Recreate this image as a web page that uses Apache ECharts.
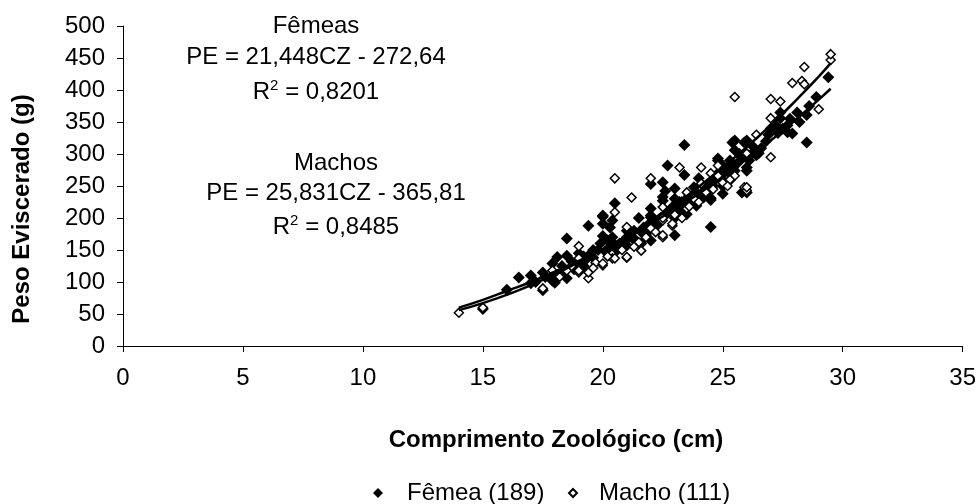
<!DOCTYPE html>
<html>
<head>
<meta charset="utf-8">
<script src="https://cdn.jsdelivr.net/npm/echarts@6/dist/echarts.min.js"></script>
<style>
html,body{margin:0;padding:0;background:#fff;}
#chart{width:979px;height:504px;}
</style>
</head>
<body>
<div id="chart"></div>
<script>
const xTicks = [0, 5, 10, 15, 20, 25, 30, 35];
const yTicks = [0, 50, 100, 150, 200, 250, 300, 350, 400, 450, 500];
const xTitle = 'Comprimento Zoológico (cm)';
const yTitle = 'Peso Eviscerado (g)';

const femea = [
  [15.0,58],[16.0,88],[16.5,107],[17.0,110],[17.5,87],[17.0,98],[17.5,115],[17.9,102],[17.9,129],[18.0,99],
  [18.1,139],[18.3,125],[18.5,106],[18.5,141],[18.5,168],[18.7,132],[19.0,128],[19.2,140],[19.4,188],[19.5,145],
  [19.6,150],[19.9,160],[20.0,191],[20.0,202],[20.0,204],[20.2,165],[20.4,170],[20.4,196],[20.5,223],[20.6,150],
  [20.7,160],[21.0,157],[21.0,170],[21.3,180],[21.4,162],[21.6,160],[21.8,175],[22.0,165],[22.0,185],[22.0,201],
  [22.0,204],[22.0,253],[22.3,190],[22.5,227],[22.5,233],[22.5,256],[22.7,208],[22.7,282],[22.9,217],[23.0,173],
  [23.0,200],[23.0,246],[23.1,217],[23.3,225],[23.4,207],[23.4,267],[23.4,314],[23.5,206],[23.6,235],[23.8,248],
  [23.9,219],[24.0,230],[24.1,238],[24.2,250],[24.5,186],[24.5,228],[24.5,231],[24.5,254],[24.7,260],[24.8,270],
  [24.8,290],[24.8,293],[25.0,238],[25.0,250],[25.2,275],[25.3,259],[25.3,270],[25.3,290],[25.4,318],[25.5,274],
  [25.5,306],[25.5,321],[25.8,240],[25.8,295],[25.9,318],[26.0,240],[26.0,274],[26.0,279],[26.0,321],[26.4,298],
  [26.5,301],[26.6,309],[27.0,340],[27.2,345],[27.4,356],[27.4,365],[27.7,334],[27.7,345],[27.9,332],[28.1,365],
  [28.5,318],[28.5,361],[28.9,389],[29.4,420],
  [18.8,120],[19.3,135],[19.8,150],[20.3,155],[21.2,170],[21.7,185],[22.2,195],[23.2,215],[23.7,225],[24.3,245],
  [24.9,262],[25.6,285],[26.2,300],[26.8,320],[27.5,340],
  [17.2,100],[17.6,108],[18.0,112],[18.4,118],[18.9,128],[19.2,125],[19.6,138],[20.1,148],[20.5,158],[20.9,163],
  [21.3,168],[21.6,178],[21.9,190],[22.4,200],[22.8,210],[23.2,225],[23.5,230],[23.9,240],[24.2,232],[24.6,250],
  [25.0,268],[25.4,280],[25.7,300],[26.1,290],[26.3,310],[26.9,330],[27.3,333],[27.8,355],[28.2,350],[28.6,375],
  [19.0,145],[20.0,172],[21.0,180],[22.0,215],[23.0,230],[24.0,262],[25.0,282],[22.6,242],[21.5,200],[20.3,185]
];

const macho = [
  [14.0,52],[15.0,60],[17.5,90],[17.9,118],[18.5,118],[18.7,125],[19.0,115],[19.0,118],[19.0,137],[19.0,156],
  [19.4,106],[19.4,115],[19.7,130],[20.0,126],[20.0,129],[20.4,137],[20.5,137],[20.5,209],[20.5,262],[21.0,138],
  [21.0,139],[21.0,186],[21.2,232],[21.5,162],[21.6,149],[22.0,184],[22.0,262],[22.5,170],[22.5,173],[22.5,196],
  [22.5,200],[22.5,217],[22.9,188],[22.9,191],[23.2,279],[23.5,215],[23.5,240],[24.1,254],[24.1,279],[24.5,270],
  [24.8,266],[24.8,282],[25.5,266],[25.5,389],[25.9,248],[26.0,243],[26.0,248],[26.0,301],[26.4,330],[27.0,295],
  [27.0,356],[27.0,386],[27.4,382],[27.9,411],[28.3,414],[28.4,409],[28.4,436],[29.0,370],[29.5,447],[29.5,456],
  [20.8,150],[21.8,170],[23.0,205],[23.8,230],[24.3,240],[25.0,255],[25.3,260],
  [18.2,108],[19.6,122],[20.2,140],[21.3,155],[22.2,178],[23.3,200],[23.6,218],[24.0,225],[24.6,245],[25.2,250]
];

const trendX = [14, 15, 16, 17, 18, 19, 20, 21, 22, 23, 24, 25, 26, 27, 28, 29, 29.5];
const trendFemea = [60, 72, 86, 100, 116, 133, 151, 170, 191, 214, 238, 264, 292, 321, 352, 385, 402];
const trendMacho = [56, 67, 80, 95, 112, 131, 151, 172, 196, 221, 249, 279, 311, 345, 382, 421, 442];

const annotFemea = ['Fêmeas', 'PE = 21,448CZ - 272,64', 'R{sup|2} = 0,8201'];
const annotMacho = ['Machos', 'PE = 25,831CZ - 365,81', 'R{sup|2} = 0,8485'];

const FONT = '"Liberation Sans", Arial, sans-serif';
const FS = 24;
const chart = echarts.init(document.getElementById('chart'), null, {renderer: 'canvas'});

const graphics = [];
[[annotFemea, 316, [26, 57, 92]], [annotMacho, 336, [163, 193, 227]]].forEach(function (g) {
  g[0].forEach(function (t, i) {
    graphics.push({
      type: 'text', x: g[1], y: g[2][i],
      style: {
        text: t, fill: '#000', font: FS + 'px ' + FONT, align: 'center', verticalAlign: 'middle',
        lineHeight: 28,
        rich: {sup: {fontSize: 15, fontFamily: FONT, fill: '#000', verticalAlign: 'top', lineHeight: 15}}
      }
    });
  });
});
graphics.push({type: 'text', x: 556, y: 440,
  style: {text: xTitle, fill: '#000', font: 'bold 24px ' + FONT, align: 'center', verticalAlign: 'middle'}});
graphics.push({type: 'text', x: 22, y: 209, rotation: Math.PI / 2,
  style: {text: yTitle, fill: '#000', font: 'bold 24px ' + FONT, align: 'center', verticalAlign: 'middle'}});

const axisCommon = {
  axisLine: {show: true, lineStyle: {color: '#000', width: 1}},
  axisTick: {show: true, inside: false, length: 6, lineStyle: {color: '#000'}},
  splitLine: {show: false},
  axisLabel: {color: '#000', fontSize: FS, fontFamily: FONT}
};

chart.setOption({
  animation: false,
  backgroundColor: '#fff',
  grid: {left: 123, right: 16, top: 26, bottom: 158, containLabel: false},
  xAxis: Object.assign({}, axisCommon, {
    type: 'value', min: xTicks[0], max: xTicks[xTicks.length - 1], interval: xTicks[1] - xTicks[0],
    axisLabel: Object.assign({}, axisCommon.axisLabel, {margin: 20})
  }),
  yAxis: Object.assign({}, axisCommon, {
    type: 'value', min: yTicks[0], max: yTicks[yTicks.length - 1], interval: yTicks[1] - yTicks[0],
    axisLabel: Object.assign({}, axisCommon.axisLabel, {margin: 18})
  }),
  legend: [
    {data: [{name: 'Fêmea (189)', icon: 'diamond'}], left: 368, top: 476, itemWidth: 10, itemHeight: 10,
     textStyle: {color: '#000', fontSize: FS, fontFamily: FONT, padding: [0, 0, 0, 19]}},
    {data: [{name: 'Macho (111)', icon: 'diamond'}], left: 563, top: 476, itemWidth: 8, itemHeight: 8,
     textStyle: {color: '#000', fontSize: FS, fontFamily: FONT, padding: [0, 0, 0, 17]}}
  ],
  graphic: graphics,
  series: [
    {name: 'Fêmea (189)', type: 'scatter', data: femea, symbol: 'diamond', symbolSize: 12,
     itemStyle: {color: '#000', opacity: 1}, z: 2},
    {name: 'Macho (111)', type: 'scatter', data: macho, symbol: 'diamond', symbolSize: 9,
     itemStyle: {color: '#fff', borderColor: '#000', borderWidth: 1.5, opacity: 1}, z: 3},
    {name: 'trendFemea', type: 'line', data: trendX.map(function (x, i) { return [x, trendFemea[i]]; }),
     smooth: true, showSymbol: false, symbol: 'none', lineStyle: {color: '#000', width: 2.5}, z: 4},
    {name: 'trendMacho', type: 'line', data: trendX.map(function (x, i) { return [x, trendMacho[i]]; }),
     smooth: true, showSymbol: false, symbol: 'none', lineStyle: {color: '#000', width: 2.5}, z: 4}
  ]
});
</script>
</body>
</html>
